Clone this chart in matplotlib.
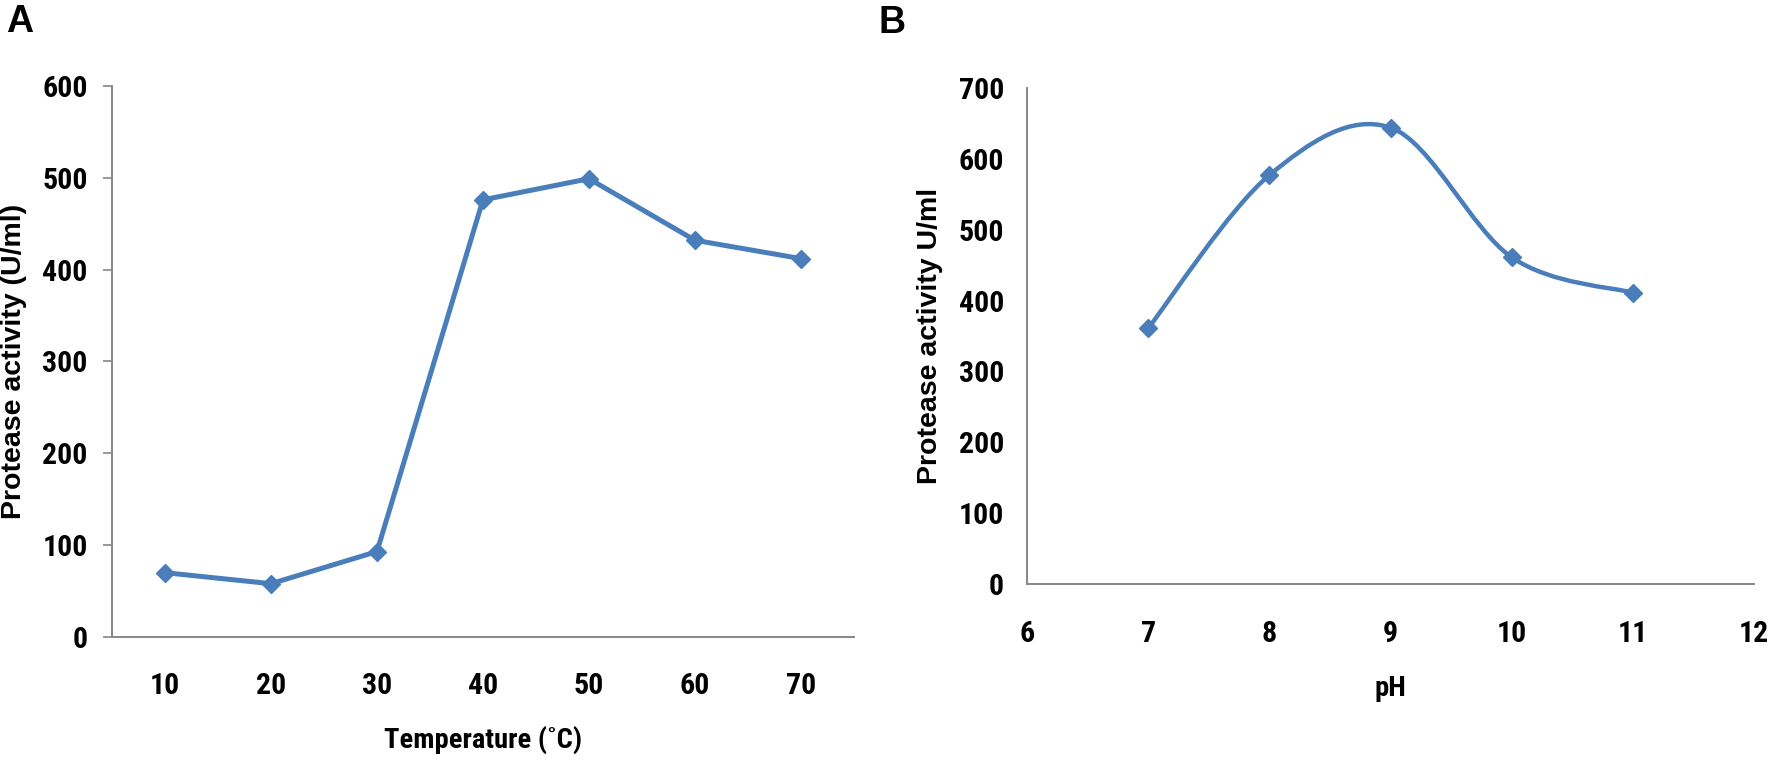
import matplotlib
matplotlib.use('Agg')
import matplotlib.pyplot as plt
from matplotlib.path import Path
from matplotlib.patches import PathPatch

# panel A: temperature profile
temperature = [10, 20, 30, 40, 50, 60, 70]
activity_temp = [70, 58, 93, 476, 499, 432, 412]

# panel B: pH profile
ph = [7, 8, 9, 10, 11]
activity_ph = [361, 577, 644, 461, 411]

line_col = '#4a7ebb'
spine_col = '#868686'
narrow = ['Roboto Condensed', 'Liberation Sans', 'DejaVu Sans']
wide = ['Liberation Sans', 'DejaVu Sans']


def smooth_path(xs, ys, k=6.0):
    # excel-like smoothed line: catmull-rom segments as cubic beziers
    pts = list(zip(xs, ys))
    n = len(pts)
    verts = [pts[0]]
    codes = [Path.MOVETO]
    for i in range(n - 1):
        p0 = pts[i - 1] if i > 0 else pts[i]
        p1 = pts[i]
        p2 = pts[i + 1]
        p3 = pts[i + 2] if i + 2 < n else pts[i + 1]
        c1 = (p1[0] + (p2[0] - p0[0]) / k, p1[1] + (p2[1] - p0[1]) / k)
        c2 = (p2[0] - (p3[0] - p1[0]) / k, p2[1] - (p3[1] - p1[1]) / k)
        verts += [c1, c2, p2]
        codes += [Path.CURVE4] * 3
    return Path(verts, codes)


def style_axes(ax):
    for s in ('top', 'right'):
        ax.spines[s].set_visible(False)
    for s in ('left', 'bottom'):
        ax.spines[s].set_color(spine_col)
        ax.spines[s].set_linewidth(1.4)


fig = plt.figure(figsize=(17.72, 7.61), dpi=100)

# ---- A ----
axA = fig.add_axes([0.0632, 0.163, 0.4187, 0.724])
axA.plot(temperature, activity_temp, color=line_col, lw=3.6,
         marker='D', ms=9.5, mfc=line_col, mec=line_col, solid_joinstyle='round')
axA.set_xlim(5, 75)
axA.set_ylim(0, 600)
axA.set_xticks(temperature)
axA.set_yticks(range(0, 601, 100))
style_axes(axA)
axA.tick_params(axis='y', direction='out', length=6.5, width=1.2,
                color=spine_col, pad=11)
axA.tick_params(axis='x', length=0, pad=25)
for lab in axA.get_xticklabels() + axA.get_yticklabels():
    lab.set_family(narrow)
    lab.set_fontweight('bold')
    lab.set_fontsize(21.5)
axA.set_xlabel('Temperature (˚C)', family=narrow, fontweight='bold',
               fontsize=20.5, va='center')
axA.xaxis.set_label_coords(0.5, -0.187)
axA.set_ylabel('Protease activity (U/ml)', family=wide, fontweight='bold',
               fontsize=20.5, va='center')
axA.yaxis.set_label_coords(-0.132, 0.5)

# ---- B ----
axB = fig.add_axes([0.5796, 0.2326, 0.4103, 0.6518])
axB.add_patch(PathPatch(smooth_path(ph, activity_ph), fill=False,
                        edgecolor=line_col, lw=3.2, capstyle='round'))
axB.plot(ph, activity_ph, ls='none', marker='D', ms=9.5,
         mfc=line_col, mec=line_col)
axB.set_xlim(6, 12)
axB.set_ylim(0, 700)
axB.set_xticks(range(6, 13))
axB.set_yticks(range(0, 701, 100))
style_axes(axB)
axB.tick_params(axis='y', length=0, pad=16.5)
axB.tick_params(axis='x', length=0, pad=26)
for lab in axB.get_xticklabels() + axB.get_yticklabels():
    lab.set_family(narrow)
    lab.set_fontweight('bold')
    lab.set_fontsize(21.5)
axB.set_xlabel('pH', family=narrow, fontweight='bold', fontsize=20.5,
               va='center')
axB.xaxis.set_label_coords(0.5, -0.2097)
axB.set_ylabel('Protease activity U/ml', family=wide, fontweight='bold',
               fontsize=20.5, va='center')
axB.yaxis.set_label_coords(-0.133, 0.5)

fig.text(20 / 1772, 1 - 22 / 761, 'A', family=wide, fontweight='bold',
         fontsize=27, ha='center', va='center')
fig.text(892 / 1772, 1 - 23 / 761, 'B', family=wide, fontweight='bold',
         fontsize=27, ha='center', va='center')

fig.savefig('out.png', dpi=100)
